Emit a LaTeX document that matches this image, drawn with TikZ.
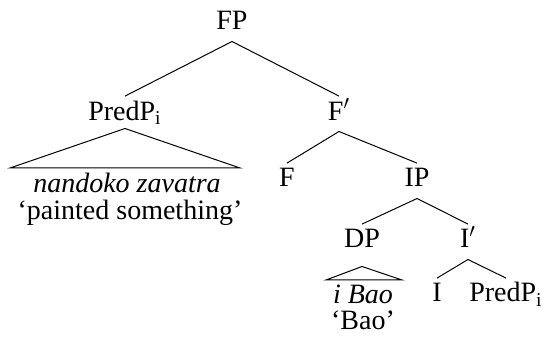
\documentclass[tikz,border=0pt]{standalone}
\usepackage{fontspec}
\setmainfont{Liberation Serif}
% branch from a mother node down to a daughter node
\newcommand\branch[2]{\draw ([yshift=-5.5pt]#1.south) -- ([yshift=2.5pt]#2.north);}
\begin{document}
\begin{tikzpicture}[x=0.5pt,y=-0.5pt,
  font=\fontsize{14}{16}\selectfont,
  lab/.style={inner sep=0pt, text height=9.2pt, text depth=0pt, anchor=base},
  gloss/.style={inner sep=0pt, anchor=base},
  every path/.style={line width=0.5pt}]
\useasboundingbox (0,0) rectangle (543,337);

% category labels
\node[lab] (FP) at (232,30) {FP};
\node[lab] (PredP) at (125,120) {PredP\textsubscript{i}};
\node[lab] (Fbar) at (339,120) {F$'$};
\node[lab] (F) at (287,187) {F};
\node[lab] (IP) at (417,187) {IP};
\node[lab] (DP) at (362,248) {DP};
\node[lab] (Ibar) at (468,248) {I$'$};
\node[lab] (I) at (437,302) {I};
\node[lab] (PredPb) at (506,302) {PredP\textsubscript{i}};

% terminal strings and glosses
\node[gloss] (nz) at (127,193) {\textit{nandoko zavatra}};
\node[gloss] (ps) at (130,220) {‘painted something’};
\node[gloss] (iB) at (363,304) {\textit{i Bao}};
\node[gloss] (Bao) at (363,330) {‘Bao’};

% branches
\branch{FP}{PredP}
\branch{FP}{Fbar}
\branch{Fbar}{F}
\branch{Fbar}{IP}
\branch{IP}{DP}
\branch{IP}{Ibar}
\branch{Ibar}{I}
\branch{Ibar}{PredPb}

% roofs over unanalysed constituents
\coordinate (rL) at (10,168);
\coordinate (rR) at (240,168);
\draw (rL) -- ([yshift=-4pt]PredP.south) -- (rR) -- cycle;
\coordinate (dL) at (326,280);
\coordinate (dR) at (402,280);
\draw (dL) -- ([yshift=-9pt]DP.south) -- (dR) -- cycle;
\end{tikzpicture}
\end{document}
